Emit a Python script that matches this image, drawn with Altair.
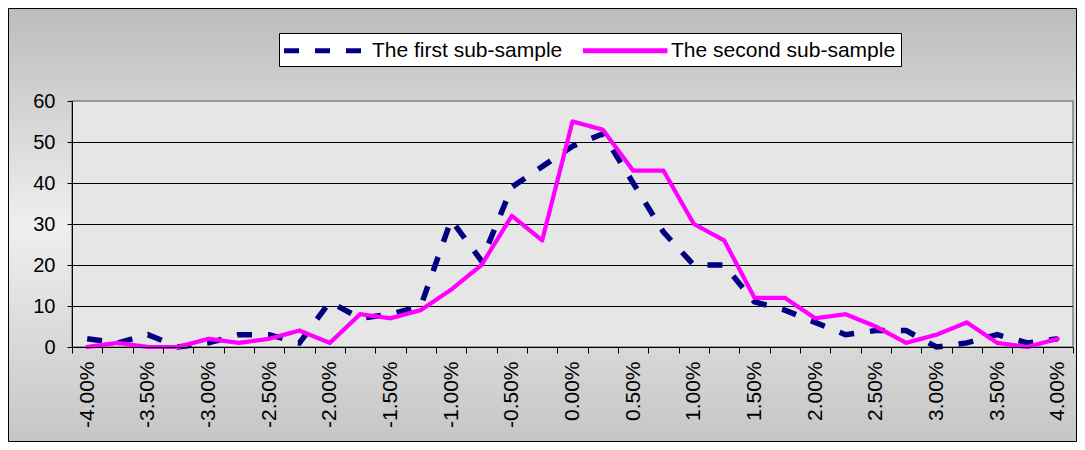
import altair as alt
import pandas as pd

categories = ["-4.00%", "-3.75%", "-3.50%", "-3.25%", "-3.00%", "-2.75%", "-2.50%", "-2.25%",
              "-2.00%", "-1.75%", "-1.50%", "-1.25%", "-1.00%", "-0.75%", "-0.50%", "-0.25%",
              "0.00%", "0.25%", "0.50%", "0.75%", "1.00%", "1.25%", "1.50%", "1.75%",
              "2.00%", "2.25%", "2.50%", "2.75%", "3.00%", "3.25%", "3.50%", "3.75%", "4.00%"]
first = [2, 1, 3, 0, 1, 3, 3, 1, 11, 7, 8, 10, 31, 21, 39, 44, 49, 52, 40, 28, 20, 20, 11, 9,
         6, 3, 4, 4, 0, 1, 3, 1, 2]
second = [0, 1, 0, 0, 2, 1, 2, 4, 1, 8, 7, 9, 14, 20, 32, 26, 55, 53, 43, 43, 30, 26, 12, 12,
          7, 8, 5, 1, 3, 6, 1, 0, 2]
series_names = ["The first sub-sample", "The second sub-sample"]
y_ticks = [0, 10, 20, 30, 40, 50, 60]
grid_values = [10, 20, 30, 40, 50]

rows = []
for c, a, b in zip(categories, first, second):
    rows.append({"cat": c, "series": series_names[0], "value": a})
    rows.append({"cat": c, "series": series_names[1], "value": b})
df = pd.DataFrame(rows)
one = pd.DataFrame({"k": [0]})
gdf = pd.DataFrame({"value": grid_values})

W, H = 1001, 246
FONT = "Liberation Sans"

yscale = alt.Scale(domain=[0, 60], nice=False, zero=True)
xscale = alt.Scale(type="band", domain=categories, paddingInner=0, paddingOuter=0)

gradient = alt.LinearGradient(
    gradient="linear",
    stops=[alt.GradientStop(offset=0, color="#bcbcbc"),
           alt.GradientStop(offset=0.5, color="#efefef"),
           alt.GradientStop(offset=1, color="#c6c6c6")],
    x1=0, x2=0, y1=0, y2=1)

yaxis = alt.Axis(
    title=None, values=y_ticks, labelFontSize=20, labelFont=FONT, labelColor="black",
    tickSize=5, labelPadding=12, domainColor="black", tickColor="black", grid=False, zindex=1)

frame = alt.Chart(one).mark_rect(fill=gradient, stroke="black", strokeWidth=1).encode(
    x=alt.value(-63.5), x2=alt.value(W + 3.5), y=alt.value(-92.5), y2=alt.value(H + 94.5))

plotbg = alt.Chart(one).mark_rect(fill="#e6e6e6", stroke="#808080", strokeWidth=1.5).encode(
    x=alt.value(0), x2=alt.value(W), y=alt.value(0), y2=alt.value(H))

grid = alt.Chart(gdf).mark_rule(color="black", strokeWidth=1, yOffset=0.5).encode(
    y=alt.Y("value:Q", scale=yscale, axis=yaxis), x=alt.value(0), x2=alt.value(W))

legend = alt.Legend(
    title=None, orient="none", legendX=207, legendY=-68, direction="horizontal", columns=2,
    symbolType="M-1.25,0H7.2", symbolSize=400, symbolStrokeWidth=5,
    labelFontSize=21, labelFont=FONT, labelColor="black", labelOffset=63, labelLimit=500,
    columnPadding=10, padding=5, fillColor="white", strokeColor="black")

xaxis = alt.Axis(
    title=None, labelAngle=270, labelFontSize=21, labelFont=FONT, labelColor="black",
    labelExpr="test(regexp('(25|75)%$'), datum.label) ? '' : datum.label",
    labelOverlap=False, tickBand="extent", tickSize=6, labelPadding=8,
    domainColor="black", tickColor="black", grid=False, zindex=1)

color = alt.Color("series:N", scale=alt.Scale(domain=series_names, range=["#000080", "#ff00ff"]),
                  legend=legend)
dash = alt.StrokeDash("series:N", scale=alt.Scale(domain=series_names, range=[[15, 16], [1, 0]]),
                      legend=legend)

base = alt.Chart(df).encode(
    x=alt.X("cat:N", sort=categories, scale=xscale, axis=xaxis, bandPosition=0.5),
    y=alt.Y("value:Q", scale=yscale, axis=yaxis),
    color=color, strokeDash=dash)

line1 = base.transform_filter(alt.datum.series == series_names[0]).mark_line(
    strokeWidth=5.5, strokeCap="butt", strokeJoin="miter")
line2 = base.transform_filter(alt.datum.series == series_names[1]).mark_line(
    strokeWidth=4.2, strokeCap="round", strokeJoin="round")

chart = alt.layer(frame, plotbg, grid, line1, line2).properties(
    width=W, height=H, autosize="none",
    padding={"left": 64, "top": 93, "right": 4, "bottom": 95},
    background="#d4d4d4"
).configure_view(stroke=None)

chart.save("out.html", embed_options={"renderer": "svg", "actions": False})
